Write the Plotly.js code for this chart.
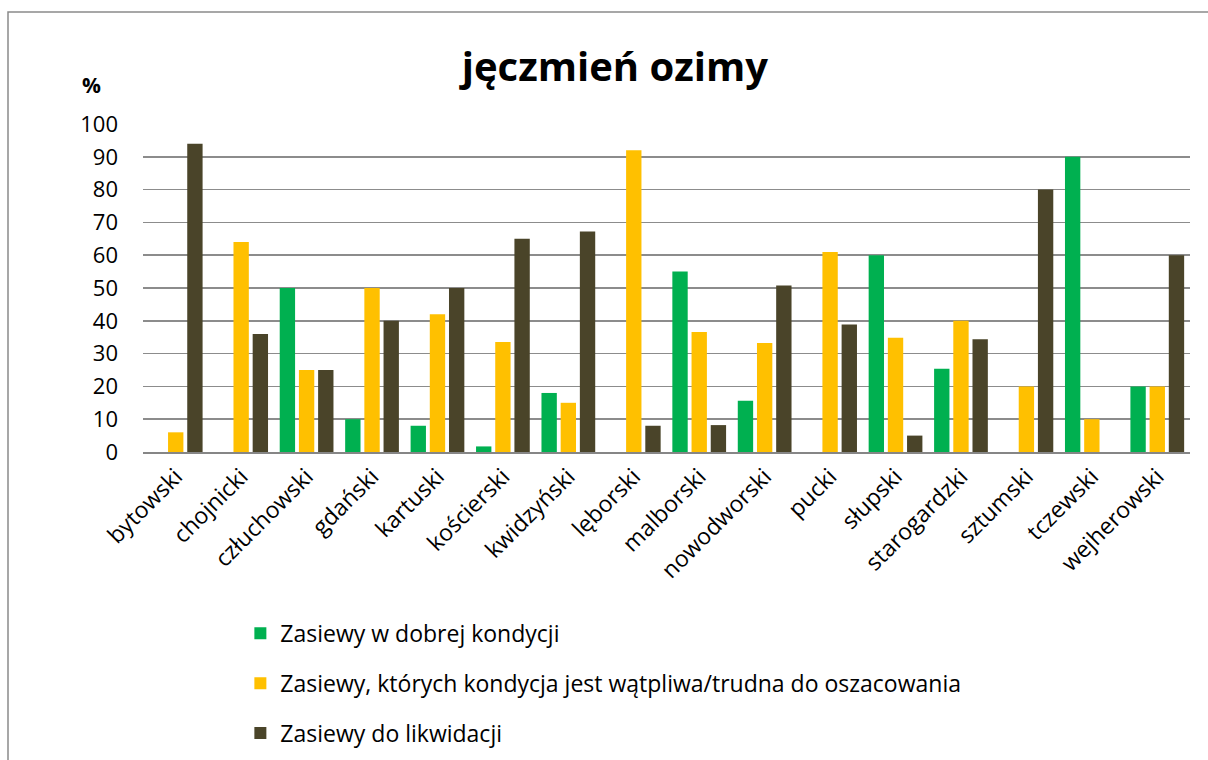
<!DOCTYPE html>
<html>
<head>
<meta charset="utf-8">
<script src="https://cdn.plot.ly/plotly-3.0.1.min.js"></script>
<style>html,body{margin:0;padding:0;background:#fff;}#chart{width:1208px;height:760px;}</style>
</head>
<body>
<div id="chart"></div>
<script>
const categories = ["bytowski","chojnicki","człuchowski","gdański","kartuski","kościerski","kwidzyński","lęborski","malborski","nowodworski","pucki","słupski","starogardzki","sztumski","tczewski","wejherowski"];
const seriesNames = ["Zasiewy w dobrej kondycji","Zasiewy, których kondycja jest wątpliwa/trudna do oszacowania","Zasiewy do likwidacji"];
const good = [0, 0, 50, 10, 8, 1.7, 18, 0, 55, 15.6, 0, 60, 25.4, 0, 90, 20];
const doubtful = [6, 64, 25, 50, 42, 33.5, 15, 92, 36.6, 33.2, 61, 34.8, 40, 20, 10, 20];
const liquidate = [94, 36, 25, 40, 50, 65, 67.2, 8, 8.2, 50.8, 38.9, 5, 34.4, 80, 0, 60];
const yTicks = [0,10,20,30,40,50,60,70,80,90,100];
const colors = ["#00B050","#FFC000","#4A4429"];
const FONT = "'Open Sans', 'Noto Sans', sans-serif";

const values = [good, doubtful, liquidate];
const traces = values.map((v, i) => ({
  type: "bar",
  name: seriesNames[i],
  x: categories,
  y: v,
  marker: {color: colors[i]},
  legendgroup: "g" + i,
  hoverinfo: "x+y"
}));

const layout = {
  width: 1208, height: 760,
  margin: {l: 143, r: 18, t: 124, b: 308},
  paper_bgcolor: "#fff", plot_bgcolor: "#fff",
  barmode: "group",
  bargap: 0.12,
  bargroupgap: 0.2,
  font: {family: FONT, color: "#000", size: 21},
  title: {text: "<b>jęczmień ozimy</b>", font: {family: FONT, size: 40, color: "#000"}, x: 0.509, xref: "container", xanchor: "center", y: 0.912, yref: "container", yanchor: "middle"},
  xaxis: {
    type: "category",
    tickangle: -45,
    automargin: false,
    showgrid: false,
    showline: true, linecolor: "#868686", linewidth: 2,
    ticks: "", tickfont: {family: FONT, size: 23, color: "#000"},
    fixedrange: true
  },
  yaxis: {
    range: [0, 100],
    automargin: false,
    tickvals: yTicks,
    ticktext: yTicks.map(String),
    showgrid: true, gridcolor: "#8c8c8c", gridwidth: 1.5,
    zeroline: false, showline: false, ticks: "",
    tickfont: {family: FONT, size: 22, color: "#000"},
    ticklabelstandoff: 24,
    fixedrange: true
  },
  showlegend: true,
  legend: {
    orientation: "v",
    x: 0.093, xanchor: "left",
    yref: "container",
    y: 0.195, yanchor: "top",
    font: {family: FONT, size: 23, color: "#000"},
    tracegroupgap: 17,
    traceorder: "grouped",
    bgcolor: "rgba(0,0,0,0)"
  },
  annotations: [{
    text: "<b>%</b>", xref: "paper", yref: "paper",
    x: (91 - 143) / 1047, y: (452 - 85) / 328,
    showarrow: false, xanchor: "center", yanchor: "middle",
    font: {family: FONT, size: 21, color: "#000"}
  }],
  shapes: [{
    type: "path", xref: "paper", yref: "paper",
    path: "M " + ((8 - 143) / 1047) + " " + ((452 - 800) / 328) + " L " + ((8 - 143) / 1047) + " " + ((452 - 12) / 328) + " L " + ((1250 - 143) / 1047) + " " + ((452 - 12) / 328),
    line: {color: "#8a8a8a", width: 1.5}
  }]
};

Plotly.newPlot("chart", traces, layout, {displayModeBar: false, staticPlot: true});
</script>
</body>
</html>
